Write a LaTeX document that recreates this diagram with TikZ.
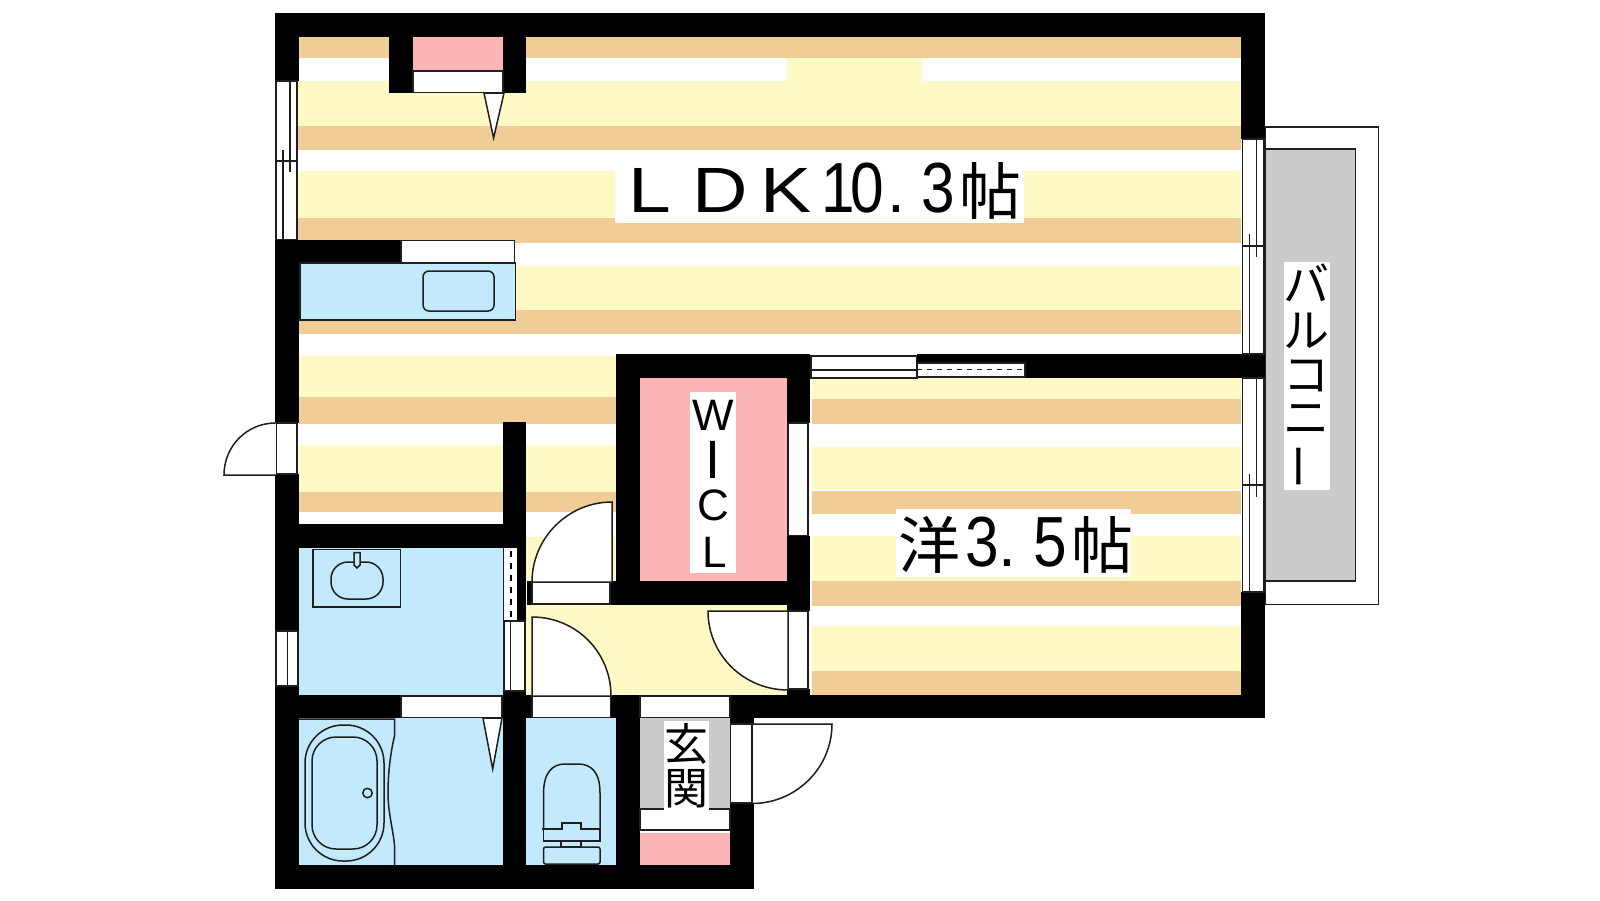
\documentclass[tikz,border=0pt]{standalone}
\usepackage{fontspec}
\setmainfont{Liberation Sans}
\newfontfamily\jpf{Noto Sans CJK JP}
\newfontfamily\narrowf[FakeStretch=0.85]{Liberation Sans}
\newfontfamily\widef[FakeStretch=1.2]{Liberation Sans}
\definecolor{tan}{HTML}{F0CC97}
\definecolor{cream}{HTML}{FFF9C6}
\definecolor{wet}{HTML}{C3E9FC}
\definecolor{closet}{HTML}{FBB5B7}
\definecolor{floorgray}{HTML}{CBCBCB}
\tikzset{
  x=0.5pt,y=-0.5pt,
  wall/.style={fill=black},
  fit line/.style={draw=black!88,line width=0.75pt,line join=miter},
  opening/.style={fit line,fill=white},
  thin line/.style={draw=black!88,line width=0.65pt},
  label box/.style={fill=white,inner sep=0pt,text=black},
}
\newcommand{\pl}[2]{\rlap{\hspace{#1}#2}}
\newcommand{\dig}[1]{{\narrowf\fontsize{35.5pt}{35.5pt}\selectfont #1}}
\newcommand{\jp}[1]{{\jpf\fontsize{31pt}{31pt}\selectfont #1}}
\newcommand{\lat}[1]{{\fontsize{32pt}{32pt}\selectfont #1}}
\newcommand{\wlat}[1]{{\widef\fontsize{32pt}{32pt}\selectfont #1}}
\begin{document}
\begin{tikzpicture}
\useasboundingbox (0,0) rectangle (1600,900);
% ---- floors: LDK
\fill[white] (298,37) rectangle (1241,356);
\foreach \a/\b in {37/58,126/150,218/243,310/334}{\fill[tan] (298,\a) rectangle (1241,\b);}
\foreach \a/\b in {81/126,171/218,266/310}{\fill[cream] (298,\a) rectangle (1241,\b);}
\fill[cream] (787,58) rectangle (922,81);
% lower left of LDK
\foreach \a/\b in {397/424,492/512}{\fill[tan] (299,\a) rectangle (616,\b);}
\foreach \a/\b in {356/397,445/492}{\fill[cream] (299,\a) rectangle (616,\b);}
% hall
\fill[cream] (526,537) rectangle (616,605);
\fill[cream] (526,605) rectangle (790,696);
% bedroom
\foreach \a/\b in {399/424,491/514,581/606,671/696}{\fill[tan] (812,\a) rectangle (1241,\b);}
\foreach \a/\b in {378/399,447/489,536/581,626/671}{\fill[cream] (812,\a) rectangle (1241,\b);}
% wet rooms, closets, entrance
\fill[wet] (299,548) rectangle (503,696);
\fill[wet] (299,718) rectangle (503,865);
\fill[wet] (526,718) rectangle (616,865);
\fill[closet] (640,378) rectangle (787,581);
\fill[closet] (413,37) rectangle (503,70);
\fill[closet] (640,833) rectangle (730,865);
\fill[floorgray] (640,718) rectangle (730,808);
% ---- balcony
\draw[fit line,fill=white] (1265,127) rectangle (1378.7,604.5);
\draw[fit line,fill=floorgray] (1265.5,149) rectangle (1355.7,581);
% ---- walls
\fill[wall] (275,13) rectangle (1265,37);
\fill[wall] (275,13) rectangle (299,81);
\fill[wall] (275,240) rectangle (299,423);
\fill[wall] (275,474) rectangle (299,631);
\fill[wall] (275,686) rectangle (299,889);
\fill[wall] (389,37) rectangle (413,93);
\fill[wall] (503,37) rectangle (526,93);
\fill[wall] (275,240) rectangle (401,264);
\fill[wall] (1241,13) rectangle (1265,139);
\fill[wall] (1025,354) rectangle (1265,378);
\fill[wall] (1241,592) rectangle (1265,718);
\fill[wall] (730,695) rectangle (1265,718);
\fill[wall] (616,354) rectangle (640,605);
\fill[wall] (616,354) rectangle (810,378);
\fill[wall] (787,354) rectangle (810,423);
\fill[wall] (787,536) rectangle (810,611);
\fill[wall] (787,689) rectangle (810,718);
\fill[wall] (610,581) rectangle (810,605);
\fill[wall] (527,581) rectangle (532,605);
\fill[wall] (503,422) rectangle (526,548);
\fill[wall] (517,548) rectangle (526,620);
\fill[wall] (275,524) rectangle (526,548);
\fill[wall] (275,695) rectangle (401,718);
\fill[wall] (503,691) rectangle (526,889);
\fill[wall] (526,695) rectangle (532,718);
\fill[wall] (610,695) rectangle (640,718);
\fill[wall] (616,695) rectangle (640,889);
\fill[wall] (730,695) rectangle (754,724);
\fill[wall] (730,803) rectangle (754,889);
\fill[wall] (275,865) rectangle (754,889);
% ---- closet fronts
\draw[opening] (413,71) rectangle (503,92.5);
\draw[opening] (484,93) -- (493.6,138) -- (504,93) -- cycle;
\draw[opening] (483,718) -- (492.7,769) -- (502,718) -- cycle;
% ---- windows, left top
\draw[opening] (276,81) rectangle (297,239.5);
\draw[fit line] (276,161) -- (297,161);
\draw[thin line] (290,81) -- (290,172);
\draw[thin line] (283,150) -- (283,239.5);
% right upper
\draw[opening] (1242.3,139) rectangle (1264,354);
\draw[fit line] (1242.3,246) -- (1264,246);
\draw[thin line] (1256.7,139) -- (1256.7,257);
\draw[thin line] (1249.3,234) -- (1249.3,354);
% right lower
\draw[opening] (1242.3,378) rectangle (1264,592);
\draw[fit line] (1242.3,485) -- (1264,485);
\draw[thin line] (1256.7,378) -- (1256.7,497);
\draw[thin line] (1249.3,474) -- (1249.3,592);
% left lower
\draw[opening] (276,631) rectangle (298,686);
\draw[thin line] (287.5,631) -- (287.5,686);
% left door jamb
\draw[opening] (276.5,423) rectangle (297,474);
% washroom sliding door
\fill[white] (503,551) rectangle (517,620);
\draw[thin line] (503.5,548) -- (503.5,620);
\draw[draw=black,line width=1.2pt,dash pattern=on 3.2pt off 2.8pt] (510.7,551) -- (510.7,620);
\draw[opening] (503.8,621) rectangle (525,691);
\draw[thin line] (510.7,621) -- (510.7,691);
% horizontal openings
\draw[opening] (401,240.5) rectangle (514.5,263);
\draw[opening] (401,696) rectangle (502,717.5);
\draw[opening] (532,696) rectangle (610.5,717.5);
\draw[opening] (640,696) rectangle (730,717.5);
\draw[opening] (640,809) rectangle (730,830);
\draw[opening] (730.5,724) rectangle (752,803);
\draw[opening] (532,582) rectangle (610,604);
\draw[opening] (788,423) rectangle (808,535.5);
\draw[opening] (788,611) rectangle (808,689);
% sliding door into the bedroom
\draw[opening] (811,356) rectangle (917,378);
\draw[thin line] (811,370) -- (917,370);
\fill[wall] (917,354) rectangle (1025,363);
\draw[opening] (917,363) rectangle (1025,377);
\draw[thin line,dashed,dash pattern=on 2.5pt off 2.5pt] (917,369.5) -- (1025,369.5);
% ---- door swings
\draw[opening] (612,502) .. controls (568,502) and (532,538) .. (532,582) -- (612,582) -- cycle;
\draw[opening] (275.5,423) .. controls (247,423) and (224,446) .. (224,475) -- (275.5,475);
\draw[opening] (532,617) .. controls (576,617) and (611,652) .. (611,696) -- (532,696) -- cycle;
\draw[opening] (708,611) .. controls (708,655) and (744,690) .. (788,690) -- (788,611) -- cycle;
\draw[opening] (832,724) .. controls (832,768) and (796,803.5) .. (752,803.5) -- (752,724) -- cycle;
% ---- kitchen counter
\draw[fit line,fill=wet] (300,263) rectangle (515.5,320);
\draw[fit line,rounded corners=3pt] (423,271) rectangle (494,311);
% ---- wash basin
\draw[fit line] (313,549.5) rectangle (400.7,607);
\draw[fit line,rounded corners=8.5pt] (331,562) rectangle (383,599);
\draw[fit line,fill=wet] (354,552.5) -- (360,552.5) -- (360,565) -- (357,568) -- (354,565) -- cycle;
% ---- bath
\draw[fit line] (299,719) -- (394.7,719) -- (394.7,735) .. controls (390,755) and (388,775) .. (388,793) .. controls (388,815) and (394.7,835) .. (394.7,850) -- (394.7,865);
\draw[fit line,rounded corners=19pt] (305,725) rectangle (384,861);
\draw[fit line,rounded corners=12pt] (312,737) rectangle (377,849);
\draw[fit line] (367.5,793) circle [radius=4.7];
% ---- toilet
\draw[fit line] (543.6,829) -- (543.6,793) .. controls (543.6,773) and (552,764) .. (565,764) -- (578,764) .. controls (592,764) and (600,773) .. (600,793) -- (600,829);
\draw[fit line] (542,829) -- (562,829) -- (562,823) -- (581,823) -- (581,829) -- (601,829);
\draw[fit line] (543.6,829) -- (543.6,841) -- (600,841) -- (600,829);
\draw[fit line] (561,841) rectangle (581,847);
\draw[fit line,rounded corners=1pt] (543.6,847) rectangle (600,864);
% ---- labels
\node[label box,minimum width=204.5pt,minimum height=32pt] (ldkbg) at (819.5,190.85) {};
\node[label box,minimum width=117.5pt,minimum height=34pt] (yobg) at (1013.5,543) {};
\node[inner sep=0pt,anchor=base west] (ldk) at (600,212.7) {\pl{13.3pt}{\wlat{L}}\pl{45.8pt}{\wlat{D}}\pl{79.8pt}{\wlat{K}}\pl{110pt}{\dig{1}}\pl{124.5pt}{\dig{0}}\pl{143pt}{\lat{.}}\pl{160pt}{\dig{3}}\pl{179pt}{\raisebox{-1pt}{\jp{帖}}}\hspace{210pt}};
\node[inner sep=0pt,anchor=base west] (yo) at (890,566.7) {\pl{3.5pt}{\raisebox{-1pt}{\jp{洋}}}\pl{36.9pt}{\dig{3}}\pl{53.5pt}{\lat{.}}\pl{71pt}{\dig{5}}\pl{89.8pt}{\raisebox{-1pt}{\jp{帖}}}\hspace{122pt}};
\node[label box,minimum width=23pt,minimum height=90.4pt] (wiclbg) at (713,482.4) {};
\node[inner sep=0pt] (w) at (713,415.5) {\fontsize{22pt}{22pt}\selectfont W};
\node[inner sep=0pt] (i) at (713,459.5) {\fontsize{27pt}{27pt}\selectfont I};
\node[inner sep=0pt] (c) at (713,505.5) {\fontsize{22pt}{22pt}\selectfont C};
\node[inner sep=0pt] (l) at (715,552) {\fontsize{22pt}{22pt}\selectfont L};
\node[label box,minimum width=22.5pt,minimum height=45pt] (genbg) at (686.5,765.9) {};
\node[inner sep=0pt] (gen) at (686.5,744) {\jpf\fontsize{22pt}{22pt}\selectfont 玄};
\node[inner sep=0pt] (kan) at (686.5,789) {\jpf\fontsize{22pt}{22pt}\selectfont 関};
\node[label box,minimum width=23pt,minimum height=114pt] (balbg) at (1307,376) {};
\node[inner sep=0pt] (ba) at (1306.7,283) {\jpf\fontsize{23pt}{23pt}\selectfont バ};
\node[inner sep=0pt] (ru) at (1306.7,331) {\jpf\fontsize{23pt}{23pt}\selectfont ル};
\node[inner sep=0pt] (ko) at (1306.7,376) {\jpf\fontsize{23pt}{23pt}\selectfont コ};
\node[inner sep=0pt] (ni) at (1306.7,420) {\jpf\fontsize{23pt}{23pt}\selectfont ニ};
\node[inner sep=0pt,rotate=90] (bar) at (1306.7,466) {\jpf\fontsize{23pt}{23pt}\selectfont ー};
\end{tikzpicture}
\end{document}
